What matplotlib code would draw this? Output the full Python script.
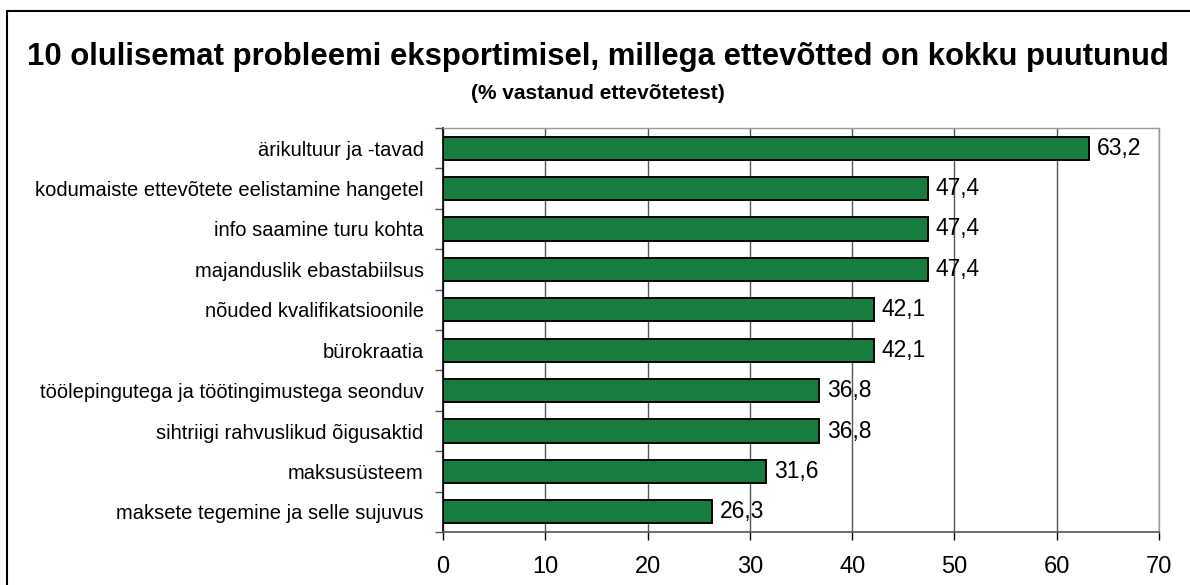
import matplotlib

matplotlib.use("Agg")

import matplotlib.pyplot as plt
from matplotlib.patches import Rectangle

plt.rcParams["font.family"] = ["Liberation Sans", "DejaVu Sans"]

# Data (top to bottom)
categories = [
    "ärikultuur ja -tavad",
    "kodumaiste ettevõtete eelistamine hangetel",
    "info saamine turu kohta",
    "majanduslik ebastabiilsus",
    "nõuded kvalifikatsioonile",
    "bürokraatia",
    "töölepingutega ja töötingimustega seonduv",
    "sihtriigi rahvuslikud õigusaktid",
    "maksusüsteem",
    "maksete tegemine ja selle sujuvus",
]
values = [63.2, 47.4, 47.4, 47.4, 42.1, 42.1, 36.8, 36.8, 31.6, 26.3]
x_ticks = [0, 10, 20, 30, 40, 50, 60, 70]

BAR_COLOR = "#177d3f"
W, H = 1190, 585

fig = plt.figure(figsize=(W / 100, H / 100), dpi=100)
ax = fig.add_axes([443 / W, 1 - 532 / H, (1159 - 443) / W, (532 - 128) / H])

positions = list(range(len(categories)))
ax.barh(positions, values, height=0.57, color=BAR_COLOR, edgecolor="black", linewidth=1.4, zorder=3)
for pos, val in zip(positions, values):
    ax.text(val + 0.75, pos, f"{val:.1f}".replace(".", ","), va="center", ha="left", fontsize=16.5, zorder=4)

ax.set_xlim(0, 70)
ax.set_ylim(len(categories) - 0.5, -0.5)
ax.set_xticks(x_ticks)
ax.set_xticklabels([str(t) for t in x_ticks], fontsize=17)
ax.tick_params(axis="x", direction="out", length=6, width=1, pad=11, color="black")

ax.set_yticks(positions)
ax.set_yticklabels(categories, fontsize=14.5)
ax.tick_params(axis="y", length=0, pad=14)
# category boundary ticks on the y axis
ax.set_yticks([p + 0.5 for p in positions] + [-0.5], minor=True)
ax.tick_params(axis="y", which="minor", direction="out", length=6, width=1, color="#555555")

ax.grid(axis="x", color="#555555", linewidth=1, zorder=0)
for side in ("top", "right"):
    ax.spines[side].set_color("#999999")
    ax.spines[side].set_linewidth(1)
ax.spines["left"].set_color("black")
ax.spines["bottom"].set_color("#555555")
for side in ("left", "bottom"):
    ax.spines[side].set_linewidth(1.2)

fig.text(598 / W, 1 - 65 / H, "10 olulisemat probleemi eksportimisel, millega ettevõtted on kokku puutunud",
         ha="center", va="baseline", fontsize=22.4, fontweight="bold")
fig.text(598 / W, 1 - 99 / H, "(% vastanud ettevõtetest)",
         ha="center", va="baseline", fontsize=15, fontweight="bold")

# outer chart border (clipped at right and bottom like the reference)
fig.patches.append(Rectangle((7 / W, -0.05), 1.1, 1 - 11 / H + 0.05, transform=fig.transFigure,
                             fill=False, edgecolor="black", linewidth=1.5))

fig.savefig("out.png", dpi=100)
